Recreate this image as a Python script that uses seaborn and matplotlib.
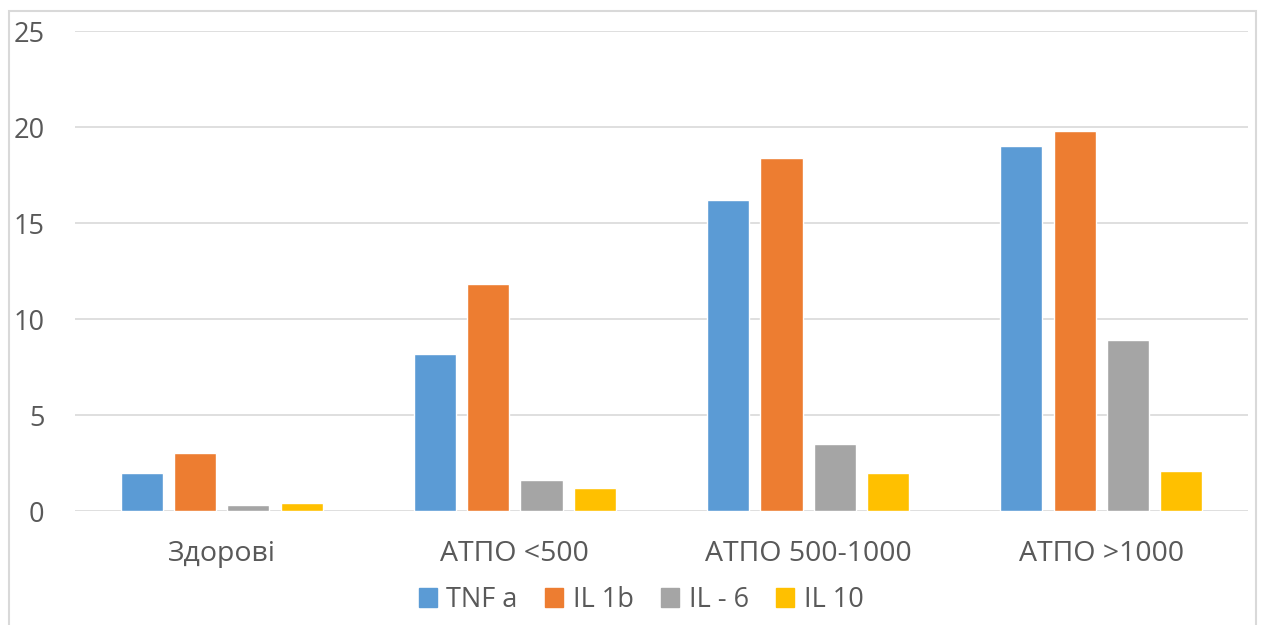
import matplotlib
matplotlib.use("Agg")
import matplotlib.pyplot as plt
import matplotlib.patches as mpatches
import seaborn as sns
import pandas as pd

# Cytokine levels per patient group
groups = ["Здорові", "АТПО <500", "АТПО 500-1000", "АТПО >1000"]
cytokines = ["TNF a", "IL 1b", "IL - 6", "IL 10"]
tnf_a = [2.0, 8.2, 16.2, 19.0]
il_1b = [3.0, 11.8, 18.4, 19.8]
il_6 = [0.3, 1.6, 3.5, 8.9]
il_10 = [0.4, 1.2, 2.0, 2.1]
y_ticks = [0, 5, 10, 15, 20, 25]

colors = ["#5B9BD5", "#ED7D31", "#A5A5A5", "#FFC000"]
text_color = "#595959"
grid_color = "#D9D9D9"

rows = []
for name, vals in zip(cytokines, [tnf_a, il_1b, il_6, il_10]):
    for g, v in zip(groups, vals):
        rows.append({"group": g, "cytokine": name, "value": v})
df = pd.DataFrame(rows)

sns.set_theme(style="white")
plt.rcParams["font.family"] = ["Open Sans", "DejaVu Sans"]

W, H = 1262, 625
fig = plt.figure(figsize=(W / 100, H / 100), dpi=100)
ax = fig.add_axes([75 / W, 1 - 511 / H, (1248 - 75) / W, (511 - 31) / H])

sns.barplot(data=df, x="group", y="value", hue="cytokine", order=groups,
            hue_order=cytokines, palette=colors, width=0.727, gap=0.21,
            saturation=1, errorbar=None, legend=True, ax=ax, zorder=3)

ax.set_ylim(0, 25)
ax.set_xlim(-0.5, len(groups) - 0.5)
ax.set_yticks(y_ticks)
ax.set_yticklabels([str(t) for t in y_ticks])
ax.set_xlabel("")
ax.set_ylabel("")
for s in ax.spines.values():
    s.set_visible(False)
ax.yaxis.grid(True, color=grid_color, linewidth=1.2, zorder=0)
ax.set_axisbelow(True)
ax.tick_params(axis="y", length=0, pad=22, labelsize=19.5, labelcolor=text_color)
ax.tick_params(axis="x", length=0, pad=21, labelsize=20.5, labelcolor=text_color)
for lab in ax.get_yticklabels():
    lab.set_horizontalalignment("right")

ax.get_legend().remove()
handles = [mpatches.Rectangle((0, 0), 1, 1, color=c) for c in colors]
fig.legend(handles, cytokines, loc="center", bbox_to_anchor=(641 / W, 1 - 600 / H),
           ncol=4, frameon=False, fontsize=19.5, labelcolor=text_color,
           handlelength=0.68, handleheight=0.68, handletextpad=0.35,
           columnspacing=1.0, borderaxespad=0)

# Chart border
border = mpatches.Rectangle((8.5 / W, -0.05), (1256 - 8.5) / W, 1.05 - 11 / H,
                            transform=fig.transFigure, fill=False,
                            edgecolor=grid_color, linewidth=1.5)
fig.patches.append(border)

fig.savefig("out.png", dpi=100, facecolor="white")
